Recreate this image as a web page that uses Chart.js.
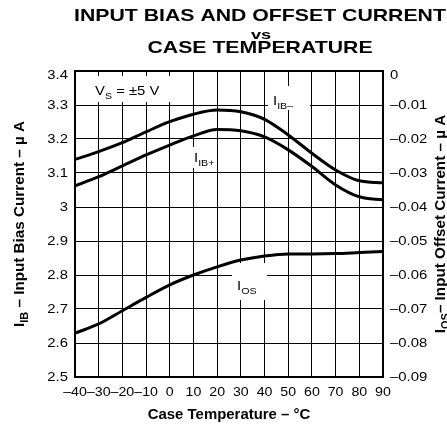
<!DOCTYPE html>
<html lang="en">
  <head>
    <meta charset="UTF-8" />
    <title>Input Bias and Offset Current vs Case Temperature</title>
    <script src="https://cdn.jsdelivr.net/npm/chart.js"></script>
    <style>
      body { margin: 0; background: #fff; }
      #wrap { width: 447px; height: 425px; position: relative; }
    </style>
  </head>
  <body>
    <div id="wrap"><canvas id="biasChart"></canvas></div>
    <script>
      // values
      const temps = [-40, -30, -20, -10, 0, 10, 20, 30, 40, 50, 60, 70, 80, 90];
      const ibMinus = [3.14, 3.163, 3.189, 3.221, 3.251, 3.273, 3.285, 3.28, 3.258, 3.212, 3.158, 3.109, 3.077, 3.071];
      const ibPlus = [3.062, 3.089, 3.121, 3.153, 3.182, 3.209, 3.228, 3.224, 3.206, 3.168, 3.119, 3.065, 3.03, 3.021];
      const iosVals = [-0.0771, -0.0744, -0.0705, -0.0666, -0.0629, -0.06, -0.0576, -0.0556, -0.0544, -0.0538, -0.0538, -0.0537, -0.0534, -0.0531];

      const xTicks = [-40, -30, -20, -10, 0, 10, 20, 30, 40, 50, 60, 70, 80, 90];
      const xTickLabels = ["–40", "–30", "–20", "–10", "0", "10", "20", "30", "40", "50", "60", "70", "80", "90"];
      const leftTicks = [2.5, 2.6, 2.7, 2.8, 2.9, 3, 3.1, 3.2, 3.3, 3.4];
      const leftTickLabels = ["2.5", "2.6", "2.7", "2.8", "2.9", "3", "3.1", "3.2", "3.3", "3.4"];
      const rightTicks = [0, -0.01, -0.02, -0.03, -0.04, -0.05, -0.06, -0.07, -0.08, -0.09];
      const rightTickLabels = ["0", "–0.01", "–0.02", "–0.03", "–0.04", "–0.05", "–0.06", "–0.07", "–0.08", "–0.09"];

      const FAM = '"Liberation Sans", Arial, Helvetica, sans-serif';

      function pts(vals) {
        return temps.map((t, i) => ({ x: t, y: vals[i] }));
      }

      // draws text made of parts (some subscripted), stretched by sx
      function drawRich(ctx, parts, x, y, size, bold, align, sx) {
        const fontFor = (p) => (bold ? "bold " : "") + (p.sub ? size * 0.72 : size) + "px " + FAM;
        const widths = parts.map((p) => {
          ctx.font = fontFor(p);
          return ctx.measureText(p.t).width * sx;
        });
        const total = widths.reduce((a, b) => a + b, 0);
        let cx = align === "center" ? x - total / 2 : align === "right" ? x - total : x;
        parts.forEach((p, i) => {
          ctx.save();
          ctx.font = fontFor(p);
          ctx.textAlign = "left";
          ctx.translate(cx, y + (p.sub ? size * 0.28 : 0));
          ctx.scale(sx, 1);
          ctx.fillText(p.t, 0, 0);
          ctx.restore();
          cx += widths[i];
        });
      }

      const textPlugin = {
        id: "textPlugin",
        beforeDraw(chart) {
          const ctx = chart.ctx;
          ctx.save();
          ctx.fillStyle = "#fff";
          ctx.fillRect(0, 0, chart.width, chart.height);
          ctx.restore();
        },
        beforeDatasetsDraw(chart) {
          const ctx = chart.ctx;
          ctx.save();
          // white patches behind the curve labels
          ctx.fillStyle = "#fff";
          ctx.fillRect(268, 86, 42, 24);
          ctx.fillRect(190, 147, 24, 21);
          ctx.fillRect(232, 263, 35, 37);
          ctx.fillRect(90, 76, 80, 26);
          ctx.fillStyle = "#000";
          ctx.textBaseline = "alphabetic";
          drawRich(ctx, [{ t: "V" }, { t: "S", sub: true }, { t: " = ±5 V" }], 95, 95, 13.5, false, "left", 1.1);
          drawRich(ctx, [{ t: "I" }, { t: "IB–", sub: true }], 273, 105, 13.5, false, "left", 1.1);
          drawRich(ctx, [{ t: "I" }, { t: "IB+", sub: true }], 194, 162, 13.5, false, "left", 1.1);
          drawRich(ctx, [{ t: "I" }, { t: "OS", sub: true }], 237, 290, 13.5, false, "left", 1.1);
          ctx.restore();
        },
        afterDraw(chart) {
          const ctx = chart.ctx;
          const area = chart.chartArea;
          const sx = chart.scales.x;
          const sy = chart.scales.y;
          const sy2 = chart.scales.y2;
          ctx.save();
          // frame
          ctx.strokeStyle = "#000";
          ctx.lineWidth = 2;
          ctx.strokeRect(area.left, area.top, area.right - area.left, area.bottom - area.top);

          ctx.fillStyle = "#000";
          ctx.textBaseline = "middle";
          leftTicks.forEach((v, i) => {
            const y = Math.max(sy.getPixelForValue(v), area.top + 4);
            drawRich(ctx, [{ t: leftTickLabels[i] }], area.left - 7, y, 13.5, false, "right", 1.1);
          });
          rightTicks.forEach((v, i) => {
            const y = Math.max(sy2.getPixelForValue(v), area.top + 4);
            drawRich(ctx, [{ t: rightTickLabels[i] }], area.right + 7, y, 13.5, false, "left", 1.1);
          });
          xTicks.forEach((v, i) => {
            drawRich(ctx, [{ t: xTickLabels[i] }], sx.getPixelForValue(v), area.bottom + 15, 13.5, false, "center", 1.05);
          });

          // titles
          ctx.textBaseline = "alphabetic";
          drawRich(ctx, [{ t: "INPUT BIAS AND OFFSET CURRENT" }], 260, 21, 17, true, "center", 1.25);
          drawRich(ctx, [{ t: "vs" }], 261, 39, 13, true, "center", 1.4);
          drawRich(ctx, [{ t: "CASE TEMPERATURE" }], 260, 53, 17, true, "center", 1.25);
          drawRich(ctx, [{ t: "Case Temperature – °C" }], (area.left + area.right) / 2, 419, 14.5, true, "center", 1.03);

          const midY = (area.top + area.bottom) / 2;
          ctx.save();
          ctx.translate(19, midY);
          ctx.rotate(-Math.PI / 2);
          drawRich(ctx, [{ t: "I" }, { t: "IB", sub: true }, { t: " – Input Bias Current – µ A" }], 0, 5, 14.5, true, "center", 1.05);
          ctx.restore();

          ctx.save();
          ctx.translate(440, midY);
          ctx.rotate(-Math.PI / 2);
          drawRich(ctx, [{ t: "I" }, { t: "OS", sub: true }, { t: "– Input Offset Current – µ A" }], 0, 5, 14.5, true, "center", 1.05);
          ctx.restore();
          ctx.restore();
        },
      };

      const lineStyle = {
        borderColor: "#000",
        borderWidth: 3,
        pointRadius: 0,
        cubicInterpolationMode: "monotone",
        fill: false,
      };

      const ctx = document.getElementById("biasChart").getContext("2d");
      const chart = new Chart(ctx, {
        type: "line",
        data: {
          datasets: [
            Object.assign({ label: "IIB-", data: pts(ibMinus), yAxisID: "y" }, lineStyle),
            Object.assign({ label: "IIB+", data: pts(ibPlus), yAxisID: "y" }, lineStyle),
            Object.assign({ label: "IOS", data: pts(iosVals), yAxisID: "y2" }, lineStyle),
          ],
        },
        options: {
          responsive: true,
          maintainAspectRatio: false,
          animation: false,
          layout: { padding: { top: 71, left: 0, right: 0, bottom: 0 } },
          plugins: {
            legend: { display: false },
            tooltip: { enabled: false },
          },
          scales: {
            x: {
              type: "linear",
              min: -40,
              max: 90,
              ticks: { stepSize: 10, display: false },
              grid: { color: "#000", lineWidth: 1, drawTicks: false },
              border: { display: false },
              afterFit: (s) => { s.height = 48; },
            },
            y: {
              position: "left",
              min: 2.5,
              max: 3.4,
              ticks: { stepSize: 0.1, display: false },
              grid: { color: "#000", lineWidth: 1, drawTicks: false },
              border: { display: false },
              afterFit: (s) => { s.width = 75; },
            },
            y2: {
              position: "right",
              min: -0.09,
              max: 0,
              ticks: { stepSize: 0.01, display: false },
              grid: { display: false, drawTicks: false },
              border: { display: false },
              afterFit: (s) => { s.width = 64; },
            },
          },
        },
        plugins: [textPlugin],
      });
    </script>
  </body>
</html>
